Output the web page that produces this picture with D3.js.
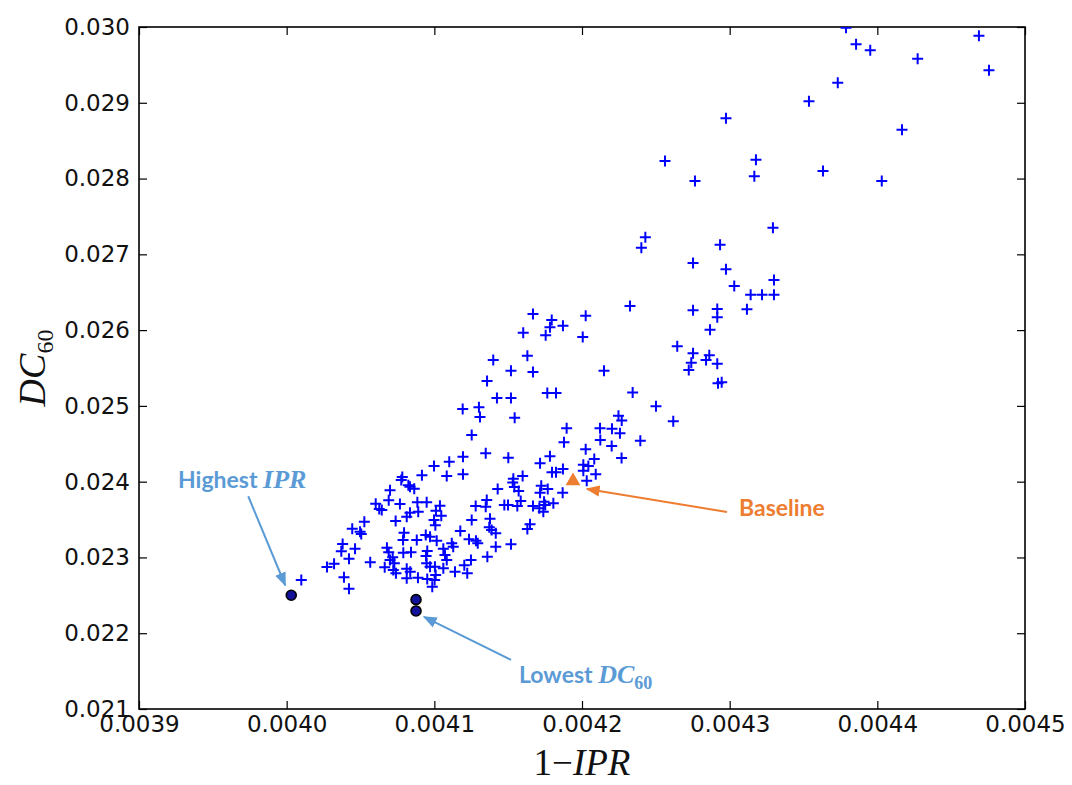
<!DOCTYPE html>
<html>
<head>
<meta charset="utf-8">
<script src="https://cdn.jsdelivr.net/npm/d3@7"></script>
<style>
  body { margin: 0; background: #fff; }
  svg { display: block; }
</style>
</head>
<body>
<svg id="chart" width="1072" height="785"></svg>
<script>
// ---- data (1-IPR, DC60) ----
const xValues = [
  0.0043788,0.0043856,0.0043952,0.0044273,0.0044688,0.0044756,0.0043732,0.0043537,0.0042975,0.0044167,
  0.0043178,0.0043167,0.0043632,0.0044030,0.0042765,0.0042562,0.0043293,0.0042429,0.0042402,0.0042935,
  0.0042752,0.0042975,0.0043300,0.0043031,0.0043142,0.0043219,0.0043300,0.0042325,0.0042752,0.0042916,
  0.0042916,0.0043117,0.0042867,0.0042645,0.0042752,0.0042740,0.0042723,0.0042862,0.0042840,0.0042916,
  0.0042921,0.0042946,0.0042343,0.0041668,0.0041795,0.0041783,0.0041871,0.0042025,0.0041602,0.0041754,
  0.0042005,0.0041630,0.0041399,0.0041519,0.0041668,0.0042149,0.0041357,0.0041424,0.0041519,0.0041765,
  0.0041824,0.0041192,0.0041302,0.0041309,0.0041544,0.0042247,0.0042269,0.0041896,0.0042122,0.0042203,
  0.0042501,0.0042618,0.0042257,0.0042124,0.0042395,0.0042201,0.0042025,0.0042268,0.0042083,0.0042009,
  0.0042043,0.0042009,0.0042093,0.0042032,0.0041253,0.0041878,0.0041348,0.0041194,0.0041501,0.0041783,
  0.0041716,0.0041797,0.0041824,0.0041871,0.0041194,0.0041598,0.0041535,0.0041531,0.0041542,0.0041724,
  0.0041768,0.0041429,0.0041716,0.0041571,0.0041869,0.0041585,0.0041355,0.0041348,0.0041280,0.0041474,
  0.0041499,0.0041562,0.0041668,0.0041743,0.0041751,0.0041806,0.0041711,0.0041738,0.0041253,0.0041377,
  0.0041372,0.0041388,0.0041416,0.0041648,0.0041630,0.0041176,0.0041235,0.0041282,0.0041294,0.0041118,
  0.0041128,0.0041416,0.0041519,0.0041359,0.0041248,0.0041203,0.0041223,0.0041140,0.0040998,0.0041101,
  0.0040916,0.0041084,0.0040783,0.0040776,0.0040824,0.0040835,0.0040864,0.0040700,0.0040691,0.0040603,
  0.0040627,0.0040644,0.0040767,0.0040885,0.0040948,0.0041038,0.0040835,0.0040891,0.0041011,0.0040738,
  0.0040813,0.0040998,0.0041007,0.0041047,0.0040526,0.0040444,0.0040497,0.0040505,0.0040795,0.0040788,
  0.0040881,0.0040942,0.0040971,0.0041016,0.0040379,0.0040463,0.0040370,0.0040679,0.0040691,0.0040790,
  0.0040842,0.0040952,0.0040944,0.0041061,0.0041072,0.0041084,0.0040422,0.0040566,0.0040664,0.0040718,
  0.0040700,0.0040729,0.0040273,0.0040321,0.0040722,0.0040740,0.0040813,0.0040837,0.0040948,0.0040971,
  0.0041004,0.0041061,0.0040388,0.0040813,0.0040889,0.0040952,0.0041009,0.0041002,0.0040422,0.0040986,
  0.0040099
];
const yValues = [
  0.029990,0.029772,0.029693,0.029582,0.029885,0.029429,0.029265,0.029020,0.028795,0.028645,
  0.028249,0.028030,0.028100,0.027968,0.027968,0.028232,0.027352,0.027225,0.027088,0.027127,
  0.026886,0.026803,0.026661,0.026582,0.026467,0.026467,0.026467,0.026318,0.026262,0.026279,
  0.026169,0.026275,0.026006,0.025786,0.025694,0.025570,0.025474,0.025668,0.025606,0.025557,
  0.025298,0.025311,0.025177,0.026213,0.026134,0.026037,0.026058,0.026190,0.025966,0.025932,
  0.025909,0.025662,0.025606,0.025465,0.025447,0.025465,0.025329,0.025104,0.025104,0.025170,
  0.025170,0.024959,0.024982,0.024854,0.024844,0.024871,0.024807,0.024704,0.024704,0.024699,
  0.024995,0.024797,0.024638,0.024550,0.024541,0.024471,0.024427,0.024313,0.024299,0.024224,
  0.024207,0.024145,0.024097,0.024013,0.024616,0.024520,0.024375,0.024330,0.024317,0.024335,
  0.024243,0.024124,0.024124,0.024167,0.024097,0.024075,0.024039,0.023989,0.023930,0.023947,
  0.023903,0.023903,0.023855,0.023877,0.023855,0.023745,0.023758,0.023670,0.023679,0.023692,
  0.023692,0.023679,0.023679,0.023736,0.023692,0.023715,0.023649,0.023604,0.023494,0.023512,
  0.023398,0.023362,0.023319,0.023438,0.023376,0.023349,0.023240,0.023221,0.023187,0.023187,
  0.023142,0.023142,0.023174,0.023010,0.022967,0.022897,0.022791,0.022812,0.024207,0.024264,
  0.024084,0.024075,0.024062,0.024022,0.023952,0.023934,0.023907,0.023886,0.023754,0.023709,
  0.023640,0.023626,0.023705,0.023728,0.023728,0.023683,0.023591,0.023604,0.023617,0.023481,
  0.023538,0.023494,0.023424,0.023551,0.023472,0.023380,0.023340,0.023310,0.023327,0.023230,
  0.023230,0.023296,0.023274,0.023221,0.023178,0.023116,0.023081,0.023129,0.023068,0.023063,
  0.023068,0.023085,0.023019,0.023116,0.023033,0.022967,0.022984,0.022936,0.022870,0.023002,
  0.022967,0.022923,0.022874,0.022918,0.022835,0.022791,0.022852,0.022812,0.022923,0.022878,
  0.022878,0.022857,0.022738,0.022725,0.022733,0.022716,0.022769,0.022703,0.022588,0.022614,
  0.022703
];
// highlighted configurations (circles)
const highlightX = [0.0040031, 0.0040876, 0.0040876];
const highlightY = [0.022501, 0.022443, 0.022294];
// baseline
const baselineX = [0.0041939];
const baselineY = [0.024009];

const xTicks = [0.0039, 0.0040, 0.0041, 0.0042, 0.0043, 0.0044, 0.0045];
const yTicks = [0.021, 0.022, 0.023, 0.024, 0.025, 0.026, 0.027, 0.028, 0.029, 0.030];

// ---- layout ----
const W = 1072, H = 785;
const m = { left: 139, top: 27, right: 47, bottom: 76 };
const iw = W - m.left - m.right, ih = H - m.top - m.bottom;

const svg = d3.select('#chart');
const g = svg.append('g').attr('transform', `translate(${m.left},${m.top})`);

const x = d3.scaleLinear().domain([0.0039, 0.0045]).range([0, iw]);
const y = d3.scaleLinear().domain([0.021, 0.030]).range([ih, 0]);

const defs = svg.append('defs');
defs.append('clipPath').attr('id', 'plotclip').append('rect').attr('width', iw).attr('height', ih);

// axes (inward ticks on all four sides)
const tickFont = '"DejaVu Sans", sans-serif';
function styleAxis(sel, showLabels) {
  sel.select('.domain').remove();
  sel.selectAll('.tick line').attr('stroke', '#000').attr('stroke-width', 1.2);
  sel.selectAll('.tick text').attr('fill', '#111').style('font-family', tickFont).style('font-size', '23px');
  if (!showLabels) sel.selectAll('.tick text').remove();
}
g.append('g').attr('transform', `translate(0,${ih})`)
  .call(d3.axisBottom(x).tickValues(xTicks).tickFormat(d3.format('.4f')).tickSize(-8).tickPadding(7))
  .call(s => styleAxis(s, true));
g.append('g')
  .call(d3.axisTop(x).tickValues(xTicks).tickSize(-8))
  .call(s => styleAxis(s, false));
g.append('g')
  .call(d3.axisLeft(y).tickValues(yTicks).tickFormat(d3.format('.3f')).tickSize(-8).tickPadding(9))
  .call(s => styleAxis(s, true));
g.append('g').attr('transform', `translate(${iw},0)`)
  .call(d3.axisRight(y).tickValues(yTicks).tickSize(-8))
  .call(s => styleAxis(s, false));

// frame
g.append('rect').attr('width', iw).attr('height', ih)
  .attr('fill', 'none').attr('stroke', '#000').attr('stroke-width', 1.6);

// points
const pts = xValues.map((v, i) => ({ x: v, y: yValues[i] }));
const plot = g.append('g').attr('clip-path', 'url(#plotclip)');
plot.selectAll('path.pt').data(pts).enter().append('path')
  .attr('class', 'pt')
  .attr('transform', d => `translate(${x(d.x)},${y(d.y)})`)
  .attr('d', 'M-5.5,0H5.5M0,-5.5V5.5')
  .attr('stroke', '#0000ff').attr('stroke-width', 2).attr('fill', 'none');

const hl = highlightX.map((v, i) => ({ x: v, y: highlightY[i] }));
plot.selectAll('circle.hl').data(hl).enter().append('circle')
  .attr('class', 'hl')
  .attr('cx', d => x(d.x)).attr('cy', d => y(d.y)).attr('r', 5)
  .attr('fill', '#12129a').attr('stroke', '#000').attr('stroke-width', 1.6);

const bl = baselineX.map((v, i) => ({ x: v, y: baselineY[i] }));
plot.selectAll('path.bl').data(bl).enter().append('path')
  .attr('class', 'bl')
  .attr('transform', d => `translate(${x(d.x)},${y(d.y)})`)
  .attr('d', d3.symbol().type(d3.symbolTriangle).size(95)())
  .attr('fill', '#ed7d31');

// ---- annotations ----
const blue = '#5b9bd5', orange = '#ed7d31';
function marker(id, color) {
  defs.append('marker').attr('id', id).attr('viewBox', '0 0 10 10')
    .attr('refX', 9).attr('refY', 5).attr('markerWidth', 7).attr('markerHeight', 7)
    .attr('orient', 'auto-start-reverse')
    .append('path').attr('d', 'M0,1 L10,5 L0,9 Z').attr('fill', color);
}
marker('arBlue', blue);
marker('arOrange', orange);

function arrow(x1, y1, x2, y2, color, mid) {
  g.append('line').attr('x1', x1).attr('y1', y1).attr('x2', x2).attr('y2', y2)
    .attr('stroke', color).attr('stroke-width', 2).attr('marker-end', `url(#${mid})`);
}
// Highest IPR -> first circle
arrow(x(highlightX[0]) - 43, y(highlightY[0]) - 99, x(highlightX[0]) - 6, y(highlightY[0]) - 10, blue, 'arBlue');
// Lowest DC60 -> third circle
arrow(x(highlightX[2]) + 95, y(highlightY[2]) + 49, x(highlightX[2]) + 8, y(highlightY[2]) + 6, blue, 'arBlue');
// Baseline
arrow(x(baselineX[0]) + 154, y(baselineY[0]) + 31, x(baselineX[0]) + 14, y(baselineY[0]) + 8, orange, 'arOrange');

const sansBold = 'Lato, "Open Sans", sans-serif';
const mathFont = '"Liberation Serif", "DejaVu Serif", serif';

const t1 = g.append('text').attr('x', 178 - m.left).attr('y', 488 - m.top)
  .attr('fill', blue).style('font-family', sansBold).style('font-weight', 700).style('font-size', '23px');
t1.append('tspan').text('Highest ');
t1.append('tspan').style('font-family', mathFont).style('font-style', 'italic').style('font-size', '26px').text('IPR');

const t2 = g.append('text').attr('x', 519 - m.left).attr('y', 683 - m.top)
  .attr('fill', blue).style('font-family', sansBold).style('font-weight', 700).style('font-size', '23px');
t2.append('tspan').text('Lowest ');
t2.append('tspan').style('font-family', mathFont).style('font-style', 'italic').style('font-size', '26px').text('DC');
t2.append('tspan').style('font-family', mathFont).style('font-size', '18px').attr('dy', 6).text('60');

g.append('text').attr('x', 739 - m.left).attr('y', 516 - m.top)
  .attr('fill', orange).style('font-family', sansBold).style('font-weight', 700).style('font-size', '23px')
  .text('Baseline');

// axis titles
const xt = svg.append('text').attr('x', m.left + iw / 2).attr('y', 775)
  .attr('text-anchor', 'middle').attr('fill', '#111')
  .style('font-family', mathFont).style('font-size', '37px');
xt.append('tspan').text('1−');
xt.append('tspan').style('font-style', 'italic').text('IPR');

const yt = svg.append('text').attr('transform', `translate(45,${m.top + ih / 2}) rotate(-90)`)
  .attr('text-anchor', 'middle').attr('fill', '#111')
  .style('font-family', mathFont).style('font-size', '38px');
yt.append('tspan').style('font-style', 'italic').text('DC');
yt.append('tspan').style('font-size', '24px').attr('dy', 8).text('60');
</script>
</body>
</html>
